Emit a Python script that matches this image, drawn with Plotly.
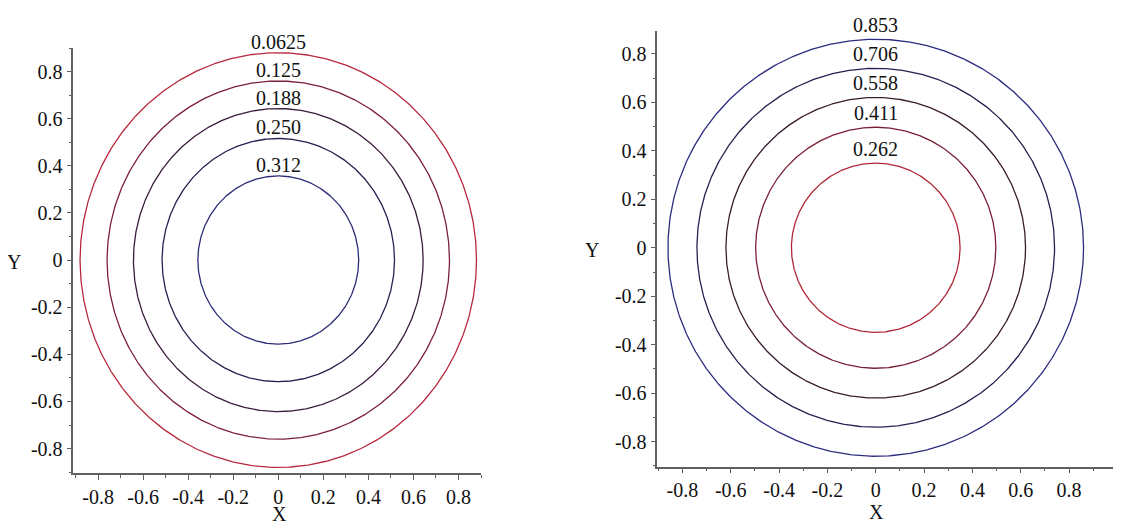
import numpy as np
import plotly.graph_objects as go

# ---- data ----
left_levels = ["0.0625", "0.125", "0.188", "0.250", "0.312"]
left_radii = [0.880, 0.760, 0.643, 0.516, 0.357]
left_colors = ["#b8283e", "#7c203c", "#3a1c3c", "#242250", "#2c2c78"]

right_levels = ["0.853", "0.706", "0.558", "0.411", "0.262"]
right_radii = [0.860, 0.740, 0.620, 0.497, 0.349]
right_colors = ["#2c2c80", "#242250", "#3a1c30", "#7a2034", "#b02838"]

tick_vals = [-0.8, -0.6, -0.4, -0.2, 0, 0.2, 0.4, 0.6, 0.8]
tick_text = ["-0.8", "-0.6", "-0.4", "-0.2", "0", "0.2", "0.4", "0.6", "0.8"]

FONT = "Liberation Serif, Times New Roman, serif"
OFF = 8  # page body margin offset
W, H = 1121 - OFF, 521 - OFF
AXC = "#606060"

def fx(px):
    return (px - OFF) / W

def fy(py):
    return 1 - (py - OFF) / H

fig = go.Figure()
theta = np.linspace(0, 2 * np.pi, 721)

def add_rings(radii, colors, xa, ya):
    for r, c in zip(radii, colors):
        fig.add_trace(go.Scatter(
            x=r * np.cos(theta), y=r * np.sin(theta), mode="lines",
            line=dict(color=c, width=1.3), xaxis=xa, yaxis=ya,
            showlegend=False, hoverinfo="skip"))

add_rings(left_radii, left_colors, "x", "y")
add_rings(right_radii, right_colors, "x2", "y2")

annotations = []
for lab, r in zip(left_levels, left_radii):
    annotations.append(dict(x=0, y=r, xref="x", yref="y", text=lab,
                            showarrow=False, yanchor="middle", yshift=11,
                            font=dict(family=FONT, size=20, color="#111")))
for lab, r in zip(right_levels, right_radii):
    annotations.append(dict(x=0, y=r, xref="x2", yref="y2", text=lab,
                            showarrow=False, yanchor="middle", yshift=14,
                            font=dict(family=FONT, size=20, color="#111")))

# axis titles
for txt, px, py in [("Y", 14, 262), ("X", 279, 514), ("Y", 592, 250), ("X", 876, 512)]:
    annotations.append(dict(x=fx(px), y=fy(py), xref="paper", yref="paper",
                            text=txt, showarrow=False, xanchor="center",
                            yanchor="middle",
                            font=dict(family=FONT, size=20, color="#111")))

def axis(domain, rng, anchor):
    return dict(domain=domain, range=rng, anchor=anchor, showgrid=False,
                zeroline=False, showline=True, linecolor=AXC, linewidth=1.5,
                ticks="outside", ticklen=5, tickwidth=1.2, tickcolor=AXC,
                tickvals=tick_vals, ticktext=tick_text,
                tickfont=dict(family=FONT, size=20, color="#111"),
                minor=dict(dtick=0.1, tick0=0, ticks="outside", ticklen=3,
                           tickcolor=AXC, tickwidth=1, showgrid=False),
                fixedrange=True)

fig.update_layout(
    width=W, height=H, margin=dict(l=0, r=0, t=0, b=0),
    paper_bgcolor="white", plot_bgcolor="white",
    xaxis=axis([fx(73.3), fx(481)], [-0.91, 0.90], "y"),
    yaxis=axis([fy(473.3), fy(48)], [-0.905, 0.90], "x"),
    xaxis2=axis([fx(657.3), 1.0], [-0.904, 1.015], "y2"),
    yaxis2=axis([fy(466.7), fy(31)], [-0.903, 0.894], "x2"),
    annotations=annotations,
    font=dict(family=FONT, size=20, color="#111"),
)

fig.write_html("out.html")
